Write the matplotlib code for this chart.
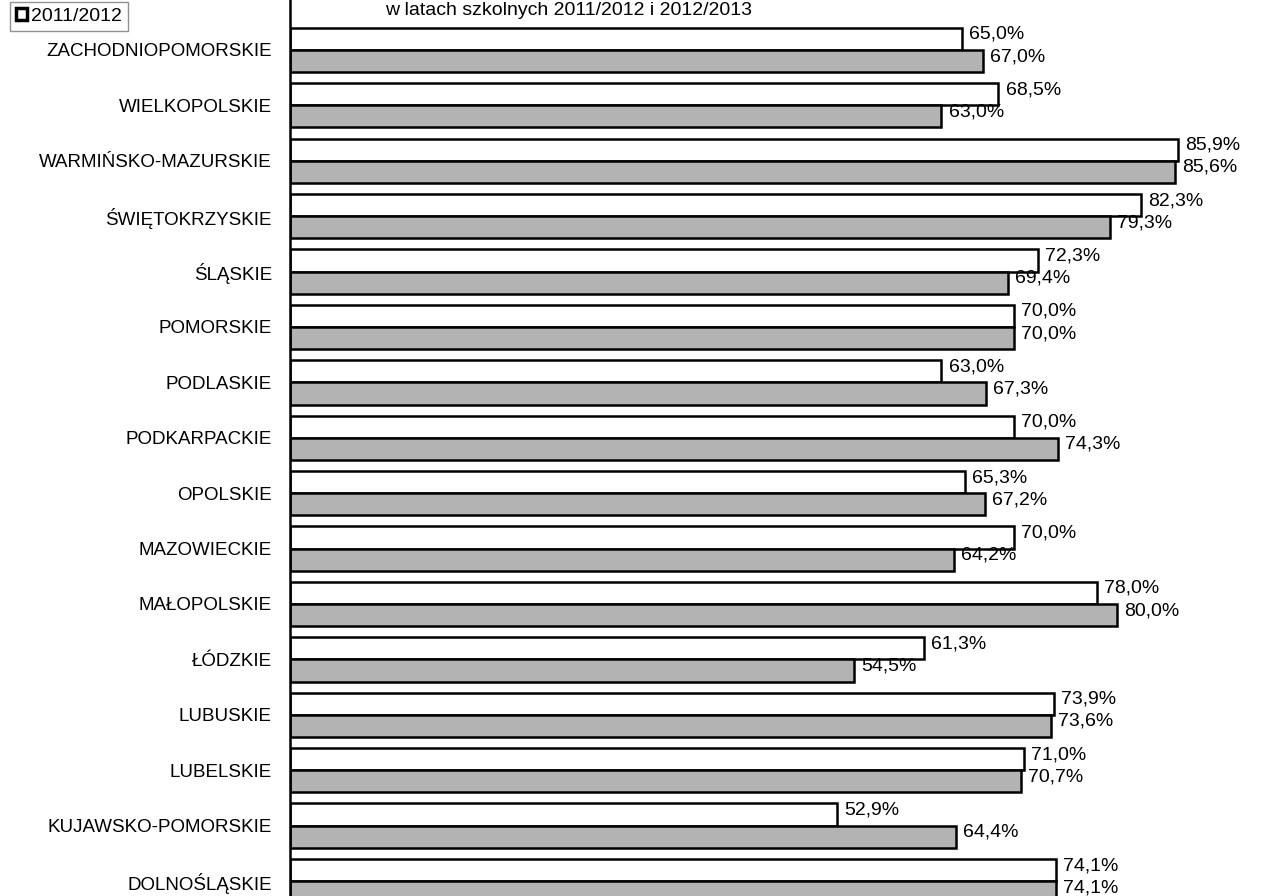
import matplotlib.pyplot as plt
from matplotlib.patches import Patch
import numpy as np

plt.rcParams['font.family'] = ['Liberation Sans', 'DejaVu Sans']

# regions, bottom to top
regions = ["DOLNOŚLĄSKIE", "KUJAWSKO-POMORSKIE", "LUBELSKIE", "LUBUSKIE",
           "ŁÓDZKIE", "MAŁOPOLSKIE", "MAZOWIECKIE", "OPOLSKIE",
           "PODKARPACKIE", "PODLASKIE", "POMORSKIE", "ŚLĄSKIE",
           "ŚWIĘTOKRZYSKIE", "WARMIŃSKO-MAZURSKIE", "WIELKOPOLSKIE",
           "ZACHODNIOPOMORSKIE"]
y2011 = [74.1, 52.9, 71.0, 73.9, 61.3, 78.0, 70.0, 65.3,
         70.0, 63.0, 70.0, 72.3, 82.3, 85.9, 68.5, 65.0]
y2012 = [74.1, 64.4, 70.7, 73.6, 54.5, 80.0, 64.2, 67.2,
         74.3, 67.3, 70.0, 69.4, 79.3, 85.6, 63.0, 67.0]
legend_label = "2011/2012"
title = "w latach szkolnych 2011/2012 i 2012/2013"

gray = "#b3b3b3"
fs = 14

fig = plt.figure(figsize=(12.61, 8.96), dpi=100)
ax = fig.add_axes([290 / 1261, 0, (1261 - 290) / 1261, 1])

y = np.arange(len(regions))
h = 0.4
ax.barh(y + h / 2, y2011, height=h, color="white", edgecolor="black", linewidth=1.8)
ax.barh(y - h / 2, y2012, height=h, color=gray, edgecolor="black", linewidth=1.8)

def fmt(v):
    return f"{v:.1f}".replace(".", ",") + "%"

for yi, a, b in zip(y, y2011, y2012):
    ax.text(a + 0.7, yi + h / 2 + 0.08, fmt(a), va="center", ha="left", fontsize=fs)
    ax.text(b + 0.7, yi - h / 2 + 0.08, fmt(b), va="center", ha="left", fontsize=fs)

ax.set_xlim(0, (1261 - 290) / 10.34)
ax.set_ylim(-0.27, 15.9)
ax.set_yticks(y)
ax.set_yticklabels(regions, fontsize=13.5)
ax.tick_params(axis="y", length=0, pad=13)
ax.set_xticks([])
for s in ["top", "right", "bottom"]:
    ax.spines[s].set_visible(False)
ax.spines["left"].set_linewidth(1.8)

fig.text(385 / 1261, 1 - 2 / 896, title, ha="left", va="top", fontsize=fs)

handles = [Patch(facecolor="white", edgecolor="black", linewidth=2.5)]
fig.legend(handles, [legend_label], loc="upper left",
           bbox_to_anchor=(8 / 1261, 1), fontsize=fs,
           handlelength=0.6, handleheight=0.6, handletextpad=0.2,
           fancybox=False, edgecolor="#777777", borderpad=0.3,
           borderaxespad=0.1)

fig.savefig("out.png", dpi=100)
